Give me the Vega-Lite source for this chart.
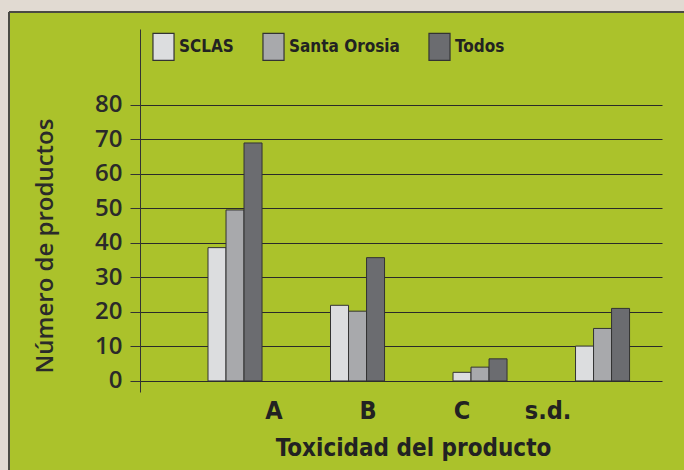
{
  "$schema": "https://vega.github.io/schema/vega-lite/v6.json",
  "width": 675,
  "height": 458,
  "autosize": {"type": "none"},
  "padding": {"left": 9, "top": 12, "right": 0, "bottom": 0},
  "background": "#e1dad2",
  "data": {
    "values": [
      {"toxicidad": "A", "serie": "SCLAS", "n": 38.6},
      {"toxicidad": "A", "serie": "Santa Orosia", "n": 49.5},
      {"toxicidad": "A", "serie": "Todos", "n": 68.9},
      {"toxicidad": "B", "serie": "SCLAS", "n": 21.9},
      {"toxicidad": "B", "serie": "Santa Orosia", "n": 20.2},
      {"toxicidad": "B", "serie": "Todos", "n": 35.7},
      {"toxicidad": "C", "serie": "SCLAS", "n": 2.5},
      {"toxicidad": "C", "serie": "Santa Orosia", "n": 4.0},
      {"toxicidad": "C", "serie": "Todos", "n": 6.4},
      {"toxicidad": "s.d.", "serie": "SCLAS", "n": 10.1},
      {"toxicidad": "s.d.", "serie": "Santa Orosia", "n": 15.2},
      {"toxicidad": "s.d.", "serie": "Todos", "n": 21.0}
    ]
  },
  "mark": {"type": "bar", "stroke": "#333333", "strokeWidth": 1},
  "encoding": {
    "x": {
      "field": "toxicidad",
      "type": "nominal",
      "sort": ["A", "B", "C", "s.d."],
      "scale": {"range": [131, 653], "paddingInner": 0.559, "paddingOuter": 0.41, "align": 0.677, "round": false},
      "axis": {
        "title": "Toxicidad del producto",
        "offset": -78,
        "domain": false,
        "ticks": false,
        "tickSize": 0,
        "grid": false,
        "labelAngle": 0,
        "labelFont": "'Liberation Sans Narrow', 'DejaVu Sans Condensed', 'Roboto Condensed', Roboto",
        "labelFontSize": 25,
        "labelFontWeight": "bold",
        "labelColor": "#222222",
        "labelPadding": 26,
        "labelBaseline": "alphabetic",
        "labelOffset": {
          "condition": [
            {"test": "datum.value === 'A'", "value": 39},
            {"test": "datum.value === 'B'", "value": 10.5},
            {"test": "datum.value === 'C'", "value": -18},
            {"test": "datum.value === 's.d.'", "value": -54.5}
          ],
          "value": 0
        },
        "titleFont": "'Liberation Sans Narrow', 'DejaVu Sans Condensed', 'Roboto Condensed', Roboto",
        "titleFontSize": 24,
        "titleFontWeight": "bold",
        "titleColor": "#222222",
        "titleX": 404,
        "titleY": 63,
        "titleAlign": "center",
        "titleBaseline": "alphabetic"
      }
    },
    "xOffset": {
      "field": "serie",
      "type": "nominal",
      "sort": ["SCLAS", "Santa Orosia", "Todos"],
      "scale": {"paddingInner": 0, "paddingOuter": 0}
    },
    "y": {
      "field": "n",
      "type": "quantitative",
      "scale": {"domain": [-3.2, 101.9], "range": [380, 17], "nice": false},
      "axis": {
        "title": "Número de productos",
        "values": [0, 10, 20, 30, 40, 50, 60, 70, 80],
        "offset": -131,
        "grid": true,
        "gridColor": "#2a2a2a",
        "gridWidth": 1,
        "domainColor": "#333333",
        "domainWidth": 1,
        "tickColor": "#333333",
        "tickSize": 10,
        "tickWidth": 1,
        "labelFont": "Open Sans",
        "labelFontWeight": 600,
        "labelFontSize": 24,
        "labelColor": "#2a2a2a",
        "labelPadding": 8,
        "labelAlign": "right",
        "labelBaseline": "middle",
        "titleFont": "Open Sans",
        "titleFontWeight": 600,
        "titleFontSize": 24,
        "titleColor": "#2a2a2a",
        "titleX": -88,
        "titleY": 233.5,
        "titleAngle": -90,
        "titleAlign": "center",
        "titleBaseline": "alphabetic"
      }
    },
    "color": {
      "field": "serie",
      "type": "nominal",
      "sort": ["SCLAS", "Santa Orosia", "Todos"],
      "scale": {"domain": ["SCLAS", "Santa Orosia", "Todos"], "range": ["#dcdddf", "#a8a9ac", "#6b6c70"]},
      "legend": {
        "title": null,
        "orient": "none",
        "direction": "horizontal",
        "legendX": 140,
        "legendY": 20,
        "padding": 0,
        "symbolType": "M-0.78,-1H0.78V1H-0.78Z",
        "symbolSize": 729,
        "symbolStrokeColor": "#333333",
        "symbolStrokeWidth": 1.2,
        "symbolOpacity": 1,
        "labelFont": "'Liberation Sans Narrow', 'DejaVu Sans Condensed', 'Roboto Condensed', Roboto",
        "labelFontSize": 17,
        "labelFontWeight": "bold",
        "labelColor": "#222222",
        "labelOffset": 1,
        "columnPadding": 25
      }
    }
  },
  "config": {
    "view": {"fill": "#abc22b", "stroke": "#4a4a44", "strokeWidth": 2, "strokeDash": [675, 1133, 458, 0]}
  }
}
